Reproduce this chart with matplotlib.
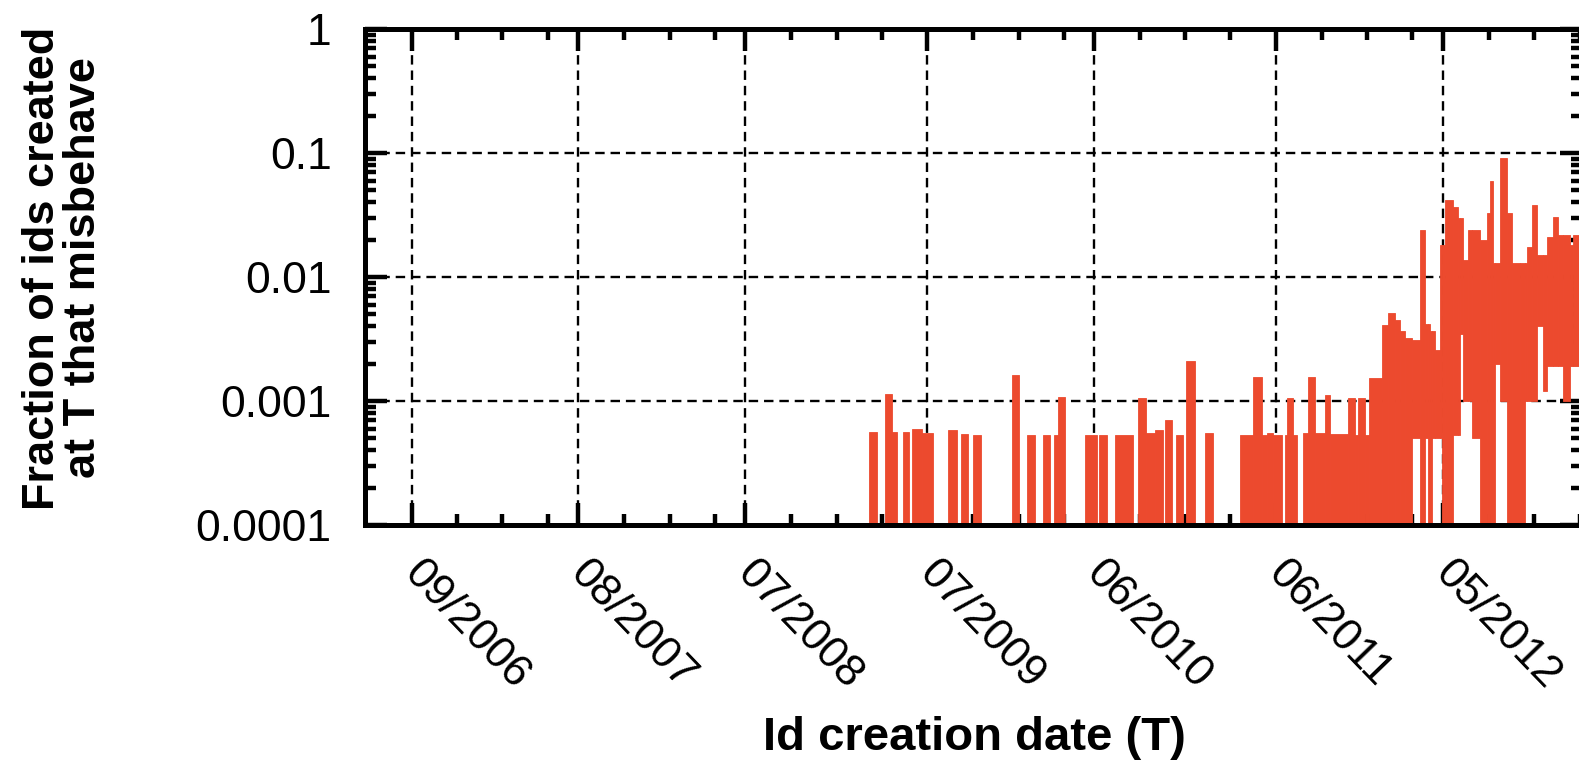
import numpy as np
import matplotlib
matplotlib.use("Agg")
import matplotlib.pyplot as plt
import matplotlib.dates as mdates
from matplotlib.transforms import ScaledTranslation
import pandas as pd

# ---------------- data ----------------
BASE_DATE = "2009-01-01"   # day offsets below are counted from this date

# red bands as drawn: start/end day, top value, bottom value (0 = down to the axis)
band_start = [64, 96, 110, 132, 150, 170, 223, 249, 273, 352, 381, 413, 435, 443,
              497, 525, 558, 604, 620, 638, 658, 680, 700, 738,
              809, 835, 853, 863, 875, 899, 903, 915, 935, 945, 959, 979, 989,
              1025, 1040, 1046, 1060, 1068, 1094, 1106, 1120, 1130, 1140, 1154,
              1170, 1180, 1186, 1190, 1194, 1200, 1210, 1214, 1220, 1236, 1246,
              1250, 1256, 1266, 1274, 1291, 1305, 1311, 1317, 1321, 1331, 1345,
              1355, 1371, 1381, 1385, 1395, 1405, 1417, 1425, 1437, 1447, 1457,
              1471, 1477]
band_end = [80, 110, 120, 144, 170, 192, 241, 263, 289, 366, 397, 427, 443, 457,
            521, 542, 594, 620, 638, 654, 672, 694, 718, 754,
            835, 853, 863, 875, 893, 903, 915, 923, 945, 959, 979, 989, 1025,
            1040, 1046, 1060, 1068, 1094, 1106, 1120, 1130, 1140, 1154, 1170,
            1180, 1186, 1190, 1194, 1200, 1210, 1214, 1220, 1236, 1246, 1250,
            1256, 1266, 1274, 1291, 1305, 1311, 1317, 1321, 1331, 1345, 1355,
            1371, 1381, 1385, 1395, 1405, 1417, 1425, 1437, 1447, 1457, 1471,
            1477, 1500]
band_top = [5.6e-4, 1.14e-3, 5.6e-4, 5.6e-4, 5.9e-4, 5.5e-4, 5.8e-4, 5.4e-4, 5.3e-4,
            1.62e-3, 5.3e-4, 5.3e-4, 5.3e-4, 1.08e-3, 5.3e-4, 5.3e-4, 5.3e-4,
            1.06e-3, 5.5e-4, 5.8e-4, 7.0e-4, 5.3e-4, 2.11e-3, 5.5e-4,
            5.3e-4, 1.57e-3, 5.3e-4, 5.5e-4, 5.3e-4, 5.3e-4, 1.06e-3, 5.3e-4,
            5.5e-4, 1.57e-3, 5.5e-4, 1.12e-3, 5.4e-4, 1.06e-3, 5.3e-4, 1.06e-3,
            5.3e-4, 1.53e-3, 4.1e-3, 5.1e-3, 4.5e-3, 3.7e-3, 3.2e-3, 3.1e-3,
            2.4e-2, 4.2e-3, 4.2e-3, 3.7e-3, 3.7e-3, 2.6e-3, 1.8e-2, 1.8e-2,
            4.2e-2, 3.7e-2, 3.0e-2, 3.0e-2, 1.37e-2, 2.4e-2, 2.4e-2, 2.0e-2,
            3.3e-2, 5.9e-2, 1.29e-2, 1.29e-2, 9.1e-2, 3.3e-2, 1.29e-2, 1.3e-2,
            1.3e-2, 1.75e-2, 3.8e-2, 1.5e-2, 1.5e-2, 2.1e-2, 3.06e-2, 2.2e-2,
            2.2e-2, 1.8e-2, 2.2e-2]
band_bottom = [0] * 24 + \
              [0, 0, 0, 0, 0, 0, 0, 0, 0, 0, 0, 0, 0, 0, 0, 0, 0, 0, 0, 0, 0, 0, 0,
               5e-4, 0, 5e-4, 0, 0, 5e-4, 5e-4, 5e-4, 0, 0, 5.3e-4, 5.3e-4, 3.5e-3,
               1e-3, 1e-3, 5e-4, 0, 0, 0, 0, 2e-3, 1e-3, 0, 0, 0, 1e-3, 1e-3, 1e-3,
               4e-3, 1.2e-3, 1.9e-3, 1.9e-3, 1.9e-3, 1e-3, 1.9e-3, 1.9e-3]

xtick_dates = ["2006-09-01", "2007-08-01", "2008-07-01", "2009-07-01",
               "2010-06-01", "2011-06-01", "2012-05-01"]
xtick_labels = ["09/2006", "08/2007", "07/2008", "07/2009",
                "06/2010", "06/2011", "05/2012"]
ytick_values = [1e-4, 1e-3, 1e-2, 1e-1, 1]
ytick_labels = ["0.0001", "0.001", "0.01", "0.1", "1"]

RED = "#EC4A2E"
FONT = "Liberation Sans"

# ---------------- figure ----------------
plt.rcParams["font.family"] = [FONT, "DejaVu Sans"]
W, H = 1579, 762
fig = plt.figure(figsize=(W / 100, H / 100), dpi=100)
ax = fig.add_axes([365 / W, 1 - 525 / H, (1582 - 365) / W, (525 - 29) / H])

base = mdates.date2num(pd.Timestamp(BASE_DATE))
starts = base + np.array(band_start, dtype=float)
ends = base + np.array(band_end, dtype=float)
tops = np.array(band_top, dtype=float)
bots = np.array(band_bottom, dtype=float)
bots = np.where(bots > 0, bots, 1e-6)   # zero -> below the visible range

ax.set_yscale("log")
ax.bar(starts, tops - bots, bottom=bots, width=ends - starts, align="edge",
       color=RED, edgecolor=RED, linewidth=0.6, zorder=2)

ax.set_xlim(base - 947.4, base + 1495.4)
ax.set_ylim(1e-4, 1)

# ticks
maj = [mdates.date2num(pd.Timestamp(d)) for d in xtick_dates]
minor = []
for d in xtick_dates:
    for k in (3, 6, 9):
        minor.append(mdates.date2num(pd.Timestamp(d) + pd.DateOffset(months=k)))
ax.set_xticks(maj)
ax.set_xticks(minor, minor=True)
ax.set_xticklabels(xtick_labels, rotation=-46, ha="left", va="baseline",
                   rotation_mode="anchor", fontsize=32)
ax.set_yticks(ytick_values)
ax.set_yticklabels(ytick_labels, fontsize=32)
ax.yaxis.set_minor_locator(matplotlib.ticker.LogLocator(base=10, subs=np.arange(2, 10)))
ax.yaxis.set_minor_formatter(matplotlib.ticker.NullFormatter())

ax.tick_params(which="both", direction="in", top=True, right=True, width=3.2,
               color="black")
ax.tick_params(which="major", length=15.8)
ax.tick_params(which="minor", length=8)
ax.tick_params(axis="y", pad=24)
ax.tick_params(axis="x", pad=36)

shift = ScaledTranslation(-10 / 100, 0, fig.dpi_scale_trans)
for lab in ax.get_xticklabels():
    lab.set_transform(lab.get_transform() + shift)

for s in ax.spines.values():
    s.set_linewidth(3.6)
    s.set_zorder(5)

ax.set_axisbelow(True)
ax.grid(True, which="major", color="black", linestyle=(0, (4, 2.5)), linewidth=1.7)

fig.text(63 / W, 1 - 268 / H, "Fraction of ids created\nat T that misbehave",
         rotation=90, ha="center", va="center", fontsize=32.5, fontweight="bold",
         linespacing=1.02, multialignment="center")
fig.text(974 / W, 1 - 738 / H, "Id creation date (T)", ha="center", va="center",
         fontsize=34, fontweight="bold")

fig.savefig("out.png", dpi=100)
